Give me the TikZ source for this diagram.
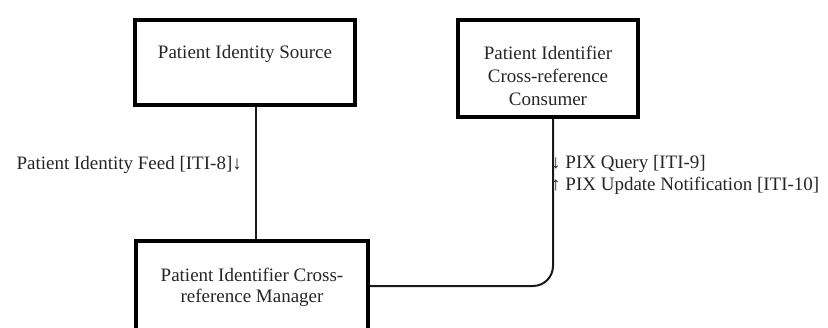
\documentclass[tikz,border=0pt]{standalone}
\usepackage{fontspec}
\setmainfont{Liberation Serif}
\begin{document}
\begin{tikzpicture}[x=1pt,y=-1pt,
  box/.style={draw=black, line width=4.3pt, minimum width=#1},
  lbl/.style={text=black!85, font=\fontsize{19}{23}\selectfont, align=center, inner sep=0pt},
  conn/.style={draw=black!90, line width=2pt},
  msg/.style={text=black!85, font=\fontsize{19}{22}\selectfont, inner sep=0pt}]
\useasboundingbox (0,0) rectangle (828,327);
\clip (0,0) rectangle (828,327);
\node[box=220pt, minimum height=85pt,
  label={[lbl, yshift=9pt]center:Patient Identity Source}] (src) at (245,62.5) {};
\node[box=180pt, minimum height=97pt,
  label={[lbl, yshift=-7pt]center:{Patient Identifier\\Cross-reference\\Consumer}}] (cons) at (548,68.5) {};
\node[box=232pt, minimum height=90pt,
  label={[lbl, font=\fontsize{19}{21}\selectfont, yshift=-1pt]center:{Patient Identifier Cross-\\reference Manager}}] (mgr) at (252,286) {};
\coordinate (feedtop) at ([xshift=4pt]mgr.north |- src.south);
\draw[conn] (feedtop) -- ([xshift=4pt]mgr.north);
\draw[conn, rounded corners=20pt] ([xshift=5pt]cons.south) |- (mgr.east);
\node[msg, anchor=base east] (feed) at (242,169) {Patient Identity Feed [ITI-8]↓};
\node[msg, anchor=base west, align=left] (pix) at (551,190) {↓ PIX Query [ITI-9]\\↑ PIX Update Notification [ITI-10]};
\end{tikzpicture}
\end{document}
